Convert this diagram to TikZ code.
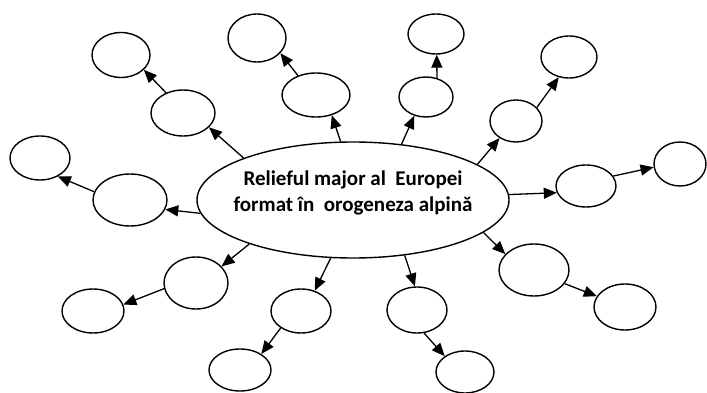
\documentclass[tikz,border=0pt]{standalone}
\usepackage{fontspec}
\setmainfont{Carlito}
\usetikzlibrary{shapes.geometric,arrows.meta}
\tikzset{
  bub/.style={draw=black, line width=1.4pt, ellipse, inner sep=0pt, fill=white},
  arr/.style={line width=1.3pt, -{Triangle[length=13pt,width=11pt]}},
  lbl/.style={font=\bfseries\fontsize{21}{26}\selectfont, align=center, inner sep=0pt},
}
\newcommand{\bubble}[5]{\node[bub, minimum width=#4pt, minimum height=#5pt] (#1) at (#2,#3) {};}
\begin{document}
\begin{tikzpicture}[x=1pt,y=-1pt]
\useasboundingbox (0,0) rectangle (707,393);
\node[bub, minimum width=312pt, minimum height=116pt] (c) at (353,200) {};
\node[lbl] (t) at (353,193) {Relieful major al~ Europei\\format în~ orogeneza alpină};
\bubble{e1}{121}{55}{58}{45}
\bubble{e2}{183}{113}{64}{46}
\bubble{e3}{257}{38}{58}{48}
\bubble{e4}{316}{95}{68}{44}
\bubble{e5}{40}{158}{60}{44}
\bubble{e6}{130}{200}{74}{52}
\bubble{e7}{436}{34}{56}{40}
\bubble{e8}{426}{97}{54}{40}
\bubble{e9}{569}{57}{56}{42}
\bubble{e10}{516}{121}{52}{42}
\bubble{e11}{680}{164}{52}{44}
\bubble{e12}{586}{186}{60}{42}
\bubble{e13}{196}{283}{64}{52}
\bubble{e14}{93}{311}{62}{44}
\bubble{e15}{301}{311}{60}{44}
\bubble{e16}{240}{370}{62}{42}
\bubble{e17}{417}{310}{60}{46}
\bubble{e18}{465}{372}{58}{42}
\bubble{e19}{534}{270}{70}{52}
\bubble{e20}{625}{307}{62}{46}
\draw[arr] (c.159.8) -- (e2.-29.5);
\draw[arr] (e2.130.6) -- (e1.-33);
\draw[arr] (c.102.6) -- (e4.-52);
\draw[arr] (e4.133.5) -- (e3.-33);
\draw[arr] (c.185.6) -- (e6.-15);
\draw[arr] (e6.167.8) -- (e5.-46.6);
\draw[arr] (c.49.3) -- (e8.238.6);
\draw[arr] (e8.60) -- (e7.272);
\draw[arr] (c.16.9) -- (e10.226.7);
\draw[arr] (e10.33) -- (e9.243.4);
\draw[arr] (c.2.6) -- (e12.193);
\draw[arr] (e12.20.8) -- (e11.187);
\draw[arr] (c.203.7) -- (e13.33.7);
\draw[arr] (e13.190.6) -- (e14.12.3);
\draw[arr] (c.249.2) -- (e15.56.9);
\draw[arr] (e15.220) -- (e16.37.7);
\draw[arr] (c.313) -- (e17.95);
\draw[arr] (e17.287) -- (e18.142);
\draw[arr] (c.346.2) -- (e19.151);
\draw[arr] (e19.336) -- (e20.159);
\end{tikzpicture}
\end{document}
